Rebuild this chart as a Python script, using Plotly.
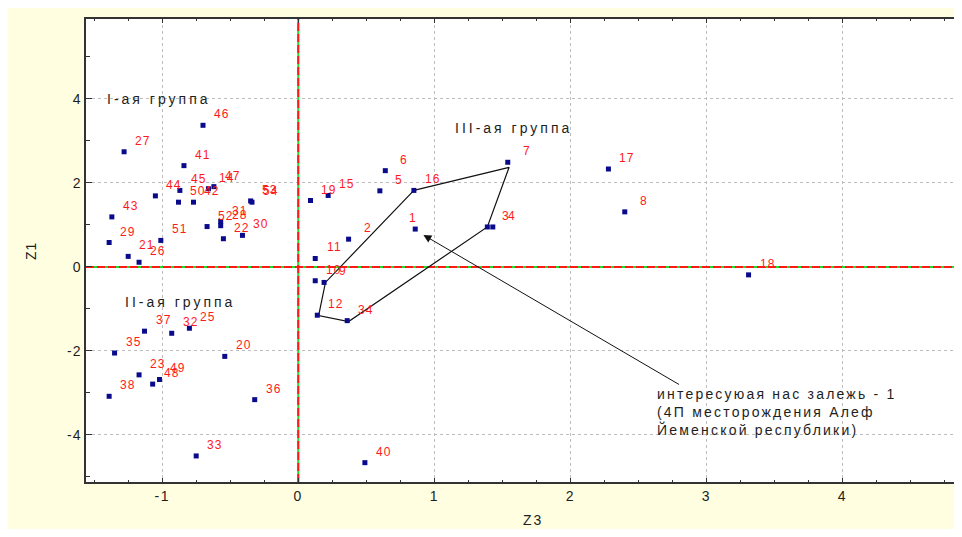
import plotly.graph_objects as go

# ---- data ----
labels = ["1", "2", "3", "4", "5", "6", "7", "8", "9", "10", "11", "12", "14", "15", "16", "17", "18", "19",
          "20", "21", "22", "23", "25", "26", "27", "28", "29", "30", "31", "32", "33", "34", "35", "36",
          "37", "38", "40", "41", "42", "43", "44", "45", "46", "47", "48", "49", "50", "51", "52", "53", "54"]
z3 = [0.86, 0.37, 1.39, 1.43, 0.60, 0.64, 1.54, 2.40, 0.19, 0.125, 0.125, 0.14, -0.66, 0.22, 0.85, 2.28, 3.31, 0.09,
      -0.54, -1.25, -0.55, -1.17, -0.80, -1.17, -1.28, -0.57, -1.39, -0.41, -0.57, -0.93, -0.75, 0.36, -1.35, -0.32,
      -1.13, -1.39, 0.49, -0.84, -0.77, -1.37, -1.05, -0.87, -0.70, -0.62, -1.07, -1.02, -0.88, -1.01, -0.67, -0.35, -0.34]
z1 = [0.90, 0.66, 0.95, 0.95, 1.81, 2.29, 2.49, 1.31, -0.37, -0.33, 0.20, -1.15, 1.86, 1.70, 1.82, 2.33, -0.19, 1.58,
      -2.13, 0.25, 0.67, -2.57, -1.46, 0.11, 2.74, 0.98, 0.58, 0.75, 1.08, -1.58, -4.50, -1.28, -2.05, -3.16,
      -1.53, -3.08, -4.66, 2.41, 1.54, 1.19, 1.69, 1.82, 3.37, 1.91, -2.79, -2.68, 1.54, 0.63, 0.96, 1.57, 1.54]

# group III outline
poly_x = [0.85, 1.55, 1.39, 0.37, 0.15, 0.20, 0.85]
poly_y = [1.82, 2.37, 0.95, -1.30, -1.16, -0.37, 1.82]

group_names = ["I-ая группа", "II-ая группа", "III-ая группа"]
group_x = [-1.02, -0.87, 1.58]
group_y = [4.00, -0.83, 3.30]

note_lines = ["интересуюая нас залежь - 1", "(4П месторождения Алеф", "Йеменской республики)"]
note_x = 2.625
note_y = -3.45
arrow_head = (0.92, 0.76)
arrow_tail = (2.81, -2.82)

x_range = [-1.56, 4.82]
y_range = [-5.12, 5.90]
x_ticks = [-1, 0, 1, 2, 3, 4]
y_ticks = [-4, -2, 0, 2, 4]

FONT = "Liberation Sans, Arial, sans-serif"
TXT = "#1e1e1e"

def spaced(s, px):
    return f'<span style="letter-spacing:{px}px">{s}</span>'

fig = go.Figure()

# zero lines: green under red dashes
for xs, ys in [([0, 0], y_range), (x_range, [0, 0])]:
    fig.add_trace(go.Scatter(x=xs, y=ys, mode="lines", line=dict(color="#22dd22", width=2),
                             hoverinfo="skip", showlegend=False))
    fig.add_trace(go.Scatter(x=xs, y=ys, mode="lines", line=dict(color="#ff1a1a", width=2, dash="8px,3px"),
                             hoverinfo="skip", showlegend=False))

fig.add_trace(go.Scatter(x=poly_x, y=poly_y, mode="lines", line=dict(color="#111111", width=1.2),
                         hoverinfo="skip", showlegend=False))

fig.add_trace(go.Scatter(x=z3, y=z1, mode="markers",
                         marker=dict(symbol="square", size=5, color="#0a0a8c", line=dict(width=0)),
                         showlegend=False))

annotations = []
for lab, xv, yv in zip(labels, z3, z1):
    xs = -2 if lab == "1" else 19
    annotations.append(dict(x=xv, y=yv, xref="x", yref="y", text=spaced(lab, 1.2), showarrow=False,
                            xanchor="center", yanchor="middle", xshift=xs, yshift=11,
                            font=dict(family=FONT, size=12, color="#ff1a1a")))

for name, gx, gy in zip(group_names, group_x, group_y):
    annotations.append(dict(x=gx, y=gy, xref="x", yref="y", text=spaced(name, 3), showarrow=False,
                            xanchor="center", yanchor="middle",
                            font=dict(family=FONT, size=14, color=TXT)))

annotations.append(dict(x=arrow_head[0], y=arrow_head[1], xref="x", yref="y",
                        ax=arrow_tail[0], ay=arrow_tail[1], axref="x", ayref="y",
                        text="", showarrow=True, arrowhead=2, arrowsize=1.6, arrowwidth=1,
                        arrowcolor="#111111", standoff=0))
annotations.append(dict(x=note_x, y=note_y, xref="x", yref="y",
                        text="<br>".join(spaced(l, 2.2) for l in note_lines), showarrow=False,
                        xanchor="left", yanchor="middle", align="left",
                        font=dict(family=FONT, size=14, color=TXT)))

# axis titles
annotations.append(dict(x=(533 - 86) / 868, y=-0.082, xref="paper", yref="paper", text=spaced("Z3", 2),
                        showarrow=False, xanchor="center", yanchor="middle",
                        font=dict(family=FONT, size=14, color=TXT)))
annotations.append(dict(x=-0.064, y=0.5, xref="paper", yref="paper", text=spaced("Z1", 1), textangle=-90,
                        showarrow=False, xanchor="center", yanchor="middle",
                        font=dict(family=FONT, size=14, color=TXT)))

# page body adds an 8px margin; size/margins compensate so the plot area lands at x 86.., y 19..482
fig.update_layout(
    width=946, height=521,
    margin=dict(l=78, r=0, t=11, b=47),
    paper_bgcolor="#fffee1", plot_bgcolor="white",
    annotations=annotations,
    font=dict(family=FONT, size=14, color=TXT),
)
fig.update_xaxes(range=x_range, tickvals=x_ticks, ticktext=[spaced(str(v), 1.5) for v in x_ticks],
                 showgrid=True, gridcolor="#bdbdbd", griddash="dot", gridwidth=1,
                 zeroline=False, showline=True, linecolor="#333333", linewidth=1.5, mirror="ticks",
                 ticks="inside", ticklen=4, tickcolor="#333333",
                 minor=dict(dtick=0.25, ticks="inside", ticklen=2, tickcolor="#333333", showgrid=False),
                 tickfont=dict(family=FONT, size=14, color=TXT))
fig.update_yaxes(range=y_range, tickvals=y_ticks, ticktext=[spaced(str(v), 1) for v in y_ticks],
                 showgrid=True, gridcolor="#bdbdbd", griddash="dot", gridwidth=1,
                 zeroline=False, showline=True, linecolor="#333333", linewidth=1.5,
                 ticks="inside", ticklen=6, tickcolor="#333333",
                 minor=dict(dtick=1, ticks="inside", ticklen=4, tickcolor="#333333", showgrid=False),
                 tickfont=dict(family=FONT, size=14, color=TXT))

fig.write_html("out.html")
